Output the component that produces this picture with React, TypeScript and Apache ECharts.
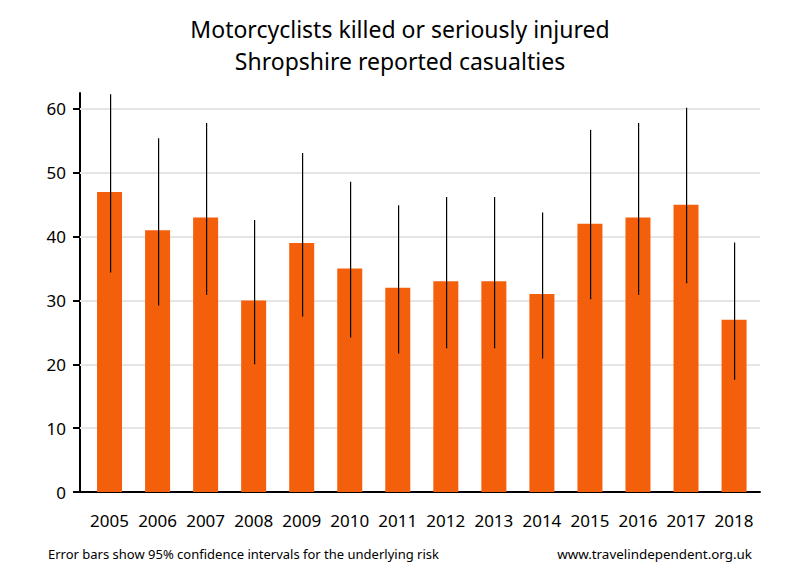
import React, { useEffect, useRef } from "react";
import * as echarts from "echarts";

const years = ["2005", "2006", "2007", "2008", "2009", "2010", "2011", "2012", "2013", "2014", "2015", "2016", "2017", "2018"];
const casualties = [47, 41, 43, 30, 39, 35, 32, 33, 33, 31, 42, 43, 45, 27];
const lowerCI = [34.4, 29.2, 30.9, 20.0, 27.5, 24.2, 21.7, 22.5, 22.5, 20.9, 30.2, 30.9, 32.7, 17.6];
const upperCI = [62.3, 55.4, 57.8, 42.6, 53.1, 48.6, 44.9, 46.2, 46.2, 43.8, 56.7, 57.8, 60.2, 39.1];
const yTicks = [0, 10, 20, 30, 40, 50, 60];
const gridValues = [10, 20, 30, 40, 50, 60];
const titleLines = ["Motorcyclists killed or seriously injured", "Shropshire reported casualties"];

const FONT = "Noto Sans";

export default function App() {
  const ref = useRef<HTMLDivElement>(null);
  useEffect(() => {
    if (!ref.current) return;
    const chart = echarts.init(ref.current, null, { renderer: "svg" });
    const idx = years.map((_, i) => i);
    chart.setOption({
      animation: false,
      backgroundColor: "#ffffff",
      grid: { left: 80, right: 40, top: 93, bottom: 88, containLabel: false },
      xAxis: {
        type: "value",
        min: -0.615,
        max: 13.54,
        axisLine: { show: true, onZero: false, lineStyle: { color: "#000", width: 2 } },
        axisTick: { show: false },
        splitLine: { show: false },
        axisLabel: {
          customValues: idx,
          formatter: (v: number) => years[Math.round(v)] ?? "",
          margin: 20,
          fontFamily: FONT,
          fontSize: 17,
          color: "#000",
        },
      },
      yAxis: {
        type: "value",
        min: 0,
        max: 62.5,
        position: "left",
        axisLine: { show: true, onZero: false, lineStyle: { color: "#000", width: 2 } },
        axisTick: { show: true, customValues: yTicks, length: 7, lineStyle: { color: "#000", width: 2 } },
        splitLine: { show: false },
        axisLabel: {
          customValues: yTicks,
          margin: 14,
          fontFamily: FONT,
          fontSize: 17,
          color: "#000",
        },
      },
      series: [
        {
          type: "bar",
          barWidth: 25,
          itemStyle: { color: "#F45F0C" },
          data: idx.map((i) => [i, casualties[i]]),
          z: 2,
          markLine: {
            silent: true,
            symbol: "none",
            z: 1,
            label: { show: false },
            lineStyle: { color: "#E6E6E6", width: 2, type: "solid" },
            data: gridValues.map((v) => ({ yAxis: v })),
          },
        },
        {
          type: "custom",
          z: 3,
          silent: true,
          clip: false,
          data: idx.map((i) => [i, lowerCI[i], upperCI[i]]),
          encode: { x: 0, y: [1, 2] },
          renderItem: (params: any, api: any) => {
            const x = api.value(0);
            const lo = api.coord([x, api.value(1)]);
            const hi = api.coord([x, api.value(2)]);
            const px = Math.round(lo[0]);
            return {
              type: "rect",
              shape: { x: px, y: hi[1], width: 1.2, height: lo[1] - hi[1] },
              style: { fill: "#000", stroke: null },
            };
          },
        },
      ],
      graphic: [
        {
          type: "text",
          x: 400,
          y: 29,
          style: {
            text: titleLines[0],
            fontFamily: FONT,
            fontSize: 23,
            fill: "#000",
            align: "center",
            verticalAlign: "middle",
          },
        },
        {
          type: "text",
          x: 400,
          y: 61,
          style: {
            text: titleLines[1],
            fontFamily: FONT,
            fontSize: 23,
            fill: "#000",
            align: "center",
            verticalAlign: "middle",
          },
        },
        {
          type: "text",
          x: 48,
          y: 554,
          style: {
            text: "Error bars show 95% confidence intervals for the underlying risk",
            fontFamily: FONT,
            fontSize: 13,
            fill: "#000",
            align: "left",
            verticalAlign: "middle",
          },
        },
        {
          type: "text",
          x: 752,
          y: 554,
          style: {
            text: "www.travelindependent.org.uk",
            fontFamily: FONT,
            fontSize: 13.4,
            fill: "#000",
            align: "right",
            verticalAlign: "middle",
          },
        },
      ],
    });
    return () => chart.dispose();
  }, []);
  return (
    <div
      ref={ref}
      style={{ position: "fixed", left: 0, top: 0, width: 800, height: 580 }}
    />
  );
}
